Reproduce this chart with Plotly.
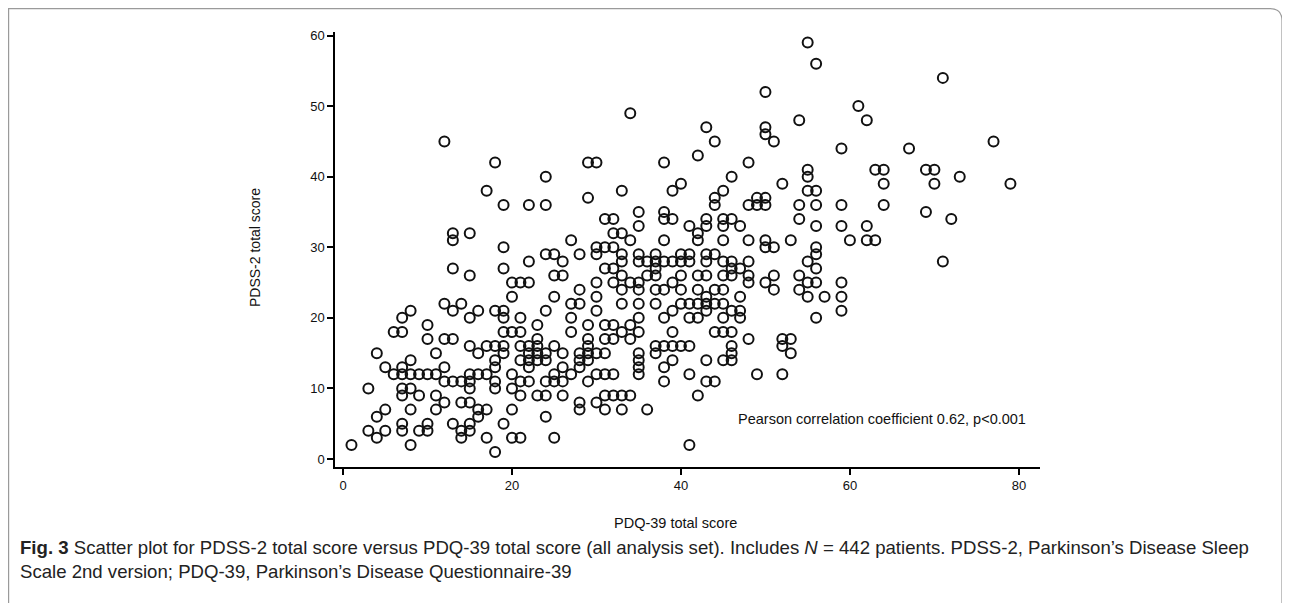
import plotly.graph_objects as go

# PDQ-39 total score (x) and PDSS-2 total score (y)
pdq39 = [
    1, 8, 4, 14, 17, 3, 5, 7, 9, 10, 14, 15, 7, 10, 13, 15, 4, 16, 5, 8, 11, 16, 17, 12, 14, 15,
    7, 9, 11, 3, 7, 8, 15, 12, 13, 14, 15, 6, 7, 8, 9, 10, 11, 15, 16, 17, 5, 7, 12, 8, 4, 11, 16,
    15, 17, 10, 12, 13, 6, 7, 10, 7, 15, 8, 13, 16, 12, 14, 15, 13, 13, 13, 15, 17, 12,
    18, 20, 21, 25, 19, 24, 20, 28, 31, 33, 36, 28, 30, 21, 23, 24, 26, 31, 32, 33, 34, 18, 20,
    18, 21, 22, 24, 25, 26, 29, 38, 20, 25, 27, 30, 31, 32, 35, 18, 22, 26, 28, 35, 38, 18, 21,
    22, 23, 24, 28, 29, 35, 19, 22, 23, 24, 26, 28, 29, 30, 31, 35, 37, 18, 19, 21, 22, 23, 25,
    29, 37, 38, 23, 29, 31, 32, 34, 19, 20, 21, 27, 33, 35, 23, 29, 31, 32, 34, 19, 21, 27, 35, 38,
    18, 19, 24, 30, 28, 27, 33, 35, 37, 20, 25, 30, 28, 33, 35, 37, 38, 20, 21, 22, 30, 32, 34,
    35, 25, 26, 33, 36, 37, 19, 31, 32, 37, 22, 26, 33, 35, 36, 37, 38, 24, 25, 28, 30, 33, 35,
    37, 19, 30, 31, 32, 27, 34, 38, 32, 33, 35, 31, 32, 38, 35, 38, 19, 22, 24, 29, 33, 24, 18,
    29, 30, 38, 34,
    41, 42, 45, 47, 56, 39, 43, 46, 47, 59, 40, 41, 42, 43, 44, 45, 43, 47, 55, 57, 59, 40, 42,
    44, 45, 51, 54, 39, 48, 50, 55, 56, 59, 40, 42, 43, 45, 46, 48, 51, 54, 46, 47, 56, 39, 40,
    41, 43, 45, 46, 48, 55, 40, 41, 43, 44, 56, 50, 51, 56, 42, 45, 48, 50, 53, 60, 42, 41, 43,
    45, 47, 56, 59, 39, 43, 45, 46, 54, 44, 48, 49, 50, 54, 56, 59, 44, 49, 50, 39, 45, 55, 56,
    40, 52, 46, 55, 55, 42, 59, 44, 51, 50, 43, 50, 54, 50, 56, 55, 48,
    64, 70, 79, 73, 63, 64, 69, 70, 67, 77, 62, 61, 71, 64, 69, 72, 62, 62, 63, 71,
    39, 44, 45, 46, 48, 52, 53, 52, 53, 39, 40, 41, 45, 46, 46, 46, 39, 43, 41, 49, 52, 43, 44,
    42, 41,
]
pdss2 = [
    2, 2, 3, 3, 3, 4, 4, 4, 4, 4, 4, 4, 5, 5, 5, 5, 6, 6, 7, 7, 7, 7, 7, 8, 8, 8,
    9, 9, 9, 10, 10, 10, 10, 11, 11, 11, 11, 12, 12, 12, 12, 12, 12, 12, 12, 12, 13, 13, 13, 14, 15, 15, 15,
    16, 16, 17, 17, 17, 18, 18, 19, 20, 20, 21, 21, 21, 22, 22, 26, 27, 31, 32, 32, 38, 45,
    1, 3, 3, 3, 5, 6, 7, 7, 7, 7, 7, 8, 8, 9, 9, 9, 9, 9, 9, 9, 9, 10, 10,
    11, 11, 11, 11, 11, 11, 11, 11, 12, 12, 12, 12, 12, 12, 12, 13, 13, 13, 13, 13, 13, 14, 14,
    14, 14, 14, 14, 14, 14, 15, 15, 15, 15, 15, 15, 15, 15, 15, 15, 15, 16, 16, 16, 16, 16, 16,
    16, 16, 16, 17, 17, 17, 17, 17, 18, 18, 18, 18, 18, 18, 19, 19, 19, 19, 19, 20, 20, 20, 20, 20,
    21, 21, 21, 21, 22, 22, 22, 22, 22, 23, 23, 23, 24, 24, 24, 24, 24, 25, 25, 25, 25, 25, 25,
    25, 26, 26, 26, 26, 26, 27, 27, 27, 27, 28, 28, 28, 28, 28, 28, 28, 29, 29, 29, 29, 29, 29,
    29, 30, 30, 30, 30, 31, 31, 31, 32, 32, 33, 34, 34, 34, 35, 35, 36, 36, 36, 37, 38, 40, 42,
    42, 42, 42, 49,
    20, 20, 20, 20, 20, 21, 21, 21, 21, 21, 22, 22, 22, 22, 22, 22, 23, 23, 23, 23, 23, 24, 24,
    24, 24, 24, 24, 25, 25, 25, 25, 25, 25, 26, 26, 26, 26, 26, 26, 26, 26, 27, 27, 27, 28, 28,
    28, 28, 28, 28, 28, 28, 29, 29, 29, 29, 29, 30, 30, 30, 31, 31, 31, 31, 31, 31, 32, 33, 33,
    33, 33, 33, 33, 34, 34, 34, 34, 34, 36, 36, 36, 36, 36, 36, 36, 37, 37, 37, 38, 38, 38, 38,
    39, 39, 40, 40, 41, 43, 44, 45, 45, 46, 47, 47, 48, 52, 56, 59, 42,
    39, 39, 39, 40, 41, 41, 41, 41, 44, 45, 48, 50, 54, 36, 35, 34, 33, 31, 31, 28,
    18, 18, 18, 18, 17, 17, 17, 16, 15, 16, 16, 16, 14, 14, 15, 16, 14, 14, 12, 12, 12, 11, 11,
    9, 2,
]

x_ticks = [0, 20, 40, 60, 80]
y_ticks = [0, 10, 20, 30, 40, 50, 60]

FONT = "Liberation Sans, Arial, sans-serif"

fig = go.Figure()
fig.add_trace(go.Scatter(
    x=pdq39, y=pdss2, mode="markers",
    marker=dict(symbol="circle-open", size=10, color="#111111", line=dict(width=2, color="#111111")),
    hoverinfo="x+y", showlegend=False,
))

axis_common = dict(
    showline=True, linecolor="#000000", linewidth=1.5, ticks="outside", ticklen=6,
    tickwidth=1.5, tickcolor="#000000", showgrid=False, zeroline=False,
    tickfont=dict(family=FONT, size=13, color="#111111"),
)
fig.update_xaxes(range=[-0.95, 82.5], tickvals=x_ticks, **axis_common)
fig.update_yaxes(range=[-1.13, 60.5], tickvals=y_ticks, **axis_common)

# page body has an 8px margin: figure coords = page coords - 8
OFF = 8
W, H = 1290, 603
L, R, T, B = 335 - OFF, 1290 - (1040 - OFF), 32 - OFF, 603 - (467 - OFF)
pw, ph = W - L - R, H - T - B

def px(xp):
    return (xp - OFF - L) / pw

def py(yp):
    return (H - B - (yp - OFF)) / ph

annotations = [
    dict(text="PDQ-39 total score", x=px(675), y=py(523), xref="paper", yref="paper",
         xanchor="center", yanchor="middle",
         showarrow=False, font=dict(family=FONT, size=14.5, color="#111111")),
    dict(text="PDSS-2 total score", x=px(255), y=py(248), xref="paper", yref="paper",
         xanchor="center", yanchor="middle",
         showarrow=False, textangle=-90, font=dict(family=FONT, size=14, color="#111111")),
    dict(text="Pearson correlation coefficient 0.62, p<0.001", x=81.1, y=5.7, xref="x", yref="y",
         xanchor="right", yanchor="middle", showarrow=False,
         font=dict(family=FONT, size=14.5, color="#111111")),
    dict(text="<b>Fig. 3</b> Scatter plot for PDSS-2 total score versus PDQ-39 total score (all analysis set). "
              "Includes <i>N</i> = 442 patients. PDSS-2, Parkinson’s Disease Sleep<br>"
              "Scale 2nd version; PDQ-39, Parkinson’s Disease Questionnaire-39",
         x=px(18), y=py(535), xref="paper", yref="paper", xanchor="left", yanchor="top",
         align="left", showarrow=False, font=dict(family=FONT, size=18.6, color="#222222")),
]

# rounded card border
x0, x1 = px(8.6), px(1282)
y1 = py(8.6)
y0 = py(640)
rx, ry = 12 / pw, 12 / ph
path = (f"M {x0},{y0} L {x0},{y1} L {x1 - rx},{y1} "
        f"Q {x1},{y1} {x1},{y1 - ry} L {x1},{y0}")

fig.update_layout(
    width=W, height=H,
    margin=dict(l=L, r=R, t=T, b=B),
    paper_bgcolor="#ffffff", plot_bgcolor="#ffffff",
    annotations=annotations,
    shapes=[dict(type="path", path=path, xref="paper", yref="paper",
                 line=dict(color="#9a9a9a", width=1.2), layer="below")],
)

fig.write_html("out.html")
